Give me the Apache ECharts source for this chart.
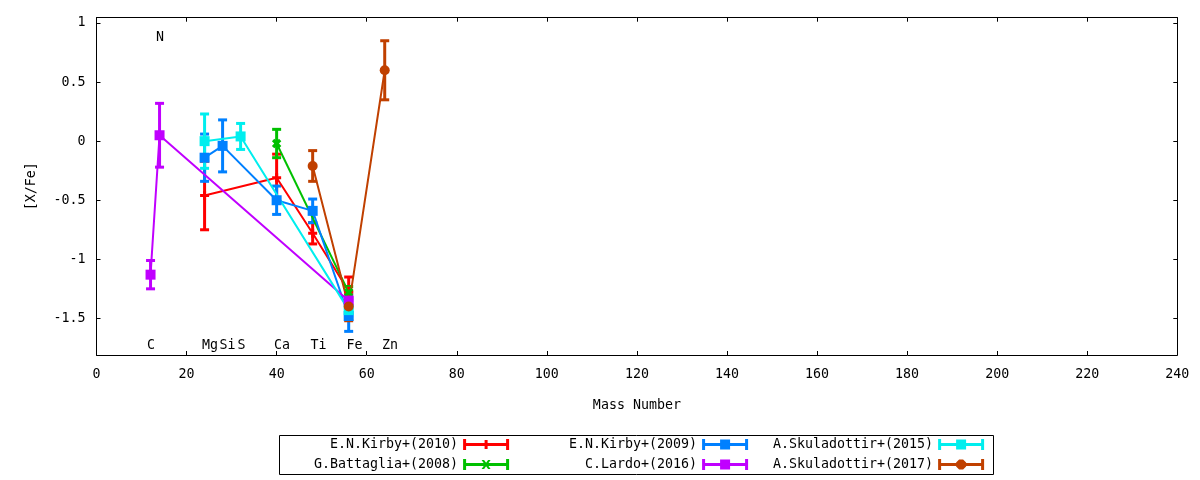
<!DOCTYPE html>
<html>
<head>
<meta charset="utf-8">
<script src="https://cdn.jsdelivr.net/npm/echarts@6/dist/echarts.min.js"></script>
<style>
html,body{margin:0;padding:0;background:#fff;}
#chart{width:1200px;height:480px;}
</style>
</head>
<body>
<div id="chart"></div>
<script>
// ---- data (mass number, [X/Fe], error) ----
const kirby2010Mass = [24, 40, 48, 56];
const kirby2010Val  = [-0.46, -0.31, -0.78, -1.27];
const kirby2010Err  = [0.29, 0.20, 0.09, 0.12];

const battaglia2008Mass = [40, 56];
const battaglia2008Val  = [-0.02, -1.28];
const battaglia2008Err  = [0.12, 0.05];

const kirby2009Mass = [24, 28, 40, 48, 56];
const kirby2009Val  = [-0.14, -0.04, -0.50, -0.59, -1.48];
const kirby2009Err  = [0.20, 0.22, 0.12, 0.10, 0.13];

const lardo2016Mass = [12, 14, 56];
const lardo2016Val  = [-1.13, 0.05, -1.35];
const lardo2016Err  = [0.12, 0.27, 0.05];

const skul2015Mass = [24, 32, 56];
const skul2015Val  = [0.00, 0.04, -1.43];
const skul2015Err  = [0.23, 0.11, 0.05];

const skul2017Mass = [48, 56, 64];
const skul2017Val  = [-0.21, -1.40, 0.60];
const skul2017Err  = [0.13, 0.12, 0.25];

// element labels
const elemNames  = ['C', 'N', 'Mg', 'Si', 'S', 'Ca', 'Ti', 'Fe', 'Zn'];
const elemLabelX = [12.1, 14.1, 25.2, 29.1, 32.2, 41.2, 49.3, 57.3, 65.2];
const elemLabelY = [-1.73, 0.88, -1.73, -1.73, -1.73, -1.73, -1.73, -1.73, -1.73];

// axis ticks
const xTicks = [0, 20, 40, 60, 80, 100, 120, 140, 160, 180, 200, 220, 240];
const yTicks = [-1.5, -1, -0.5, 0, 0.5, 1];

const FONT = 'DejaVu Sans Mono';
const FS = 13.3;

const names = {
  k10: 'E.N.Kirby+(2010)',
  b08: 'G.Battaglia+(2008)',
  k09: 'E.N.Kirby+(2009)',
  l16: 'C.Lardo+(2016)',
  s15: 'A.Skuladottir+(2015)',
  s17: 'A.Skuladottir+(2017)'
};
const colors = {
  k10: '#ff0000', b08: '#00c000', k09: '#0080ff',
  l16: '#c000ff', s15: '#00eeee', s17: '#c04000'
};

const plusPath = 'path://M3,0H6V3H9V6H6V9H3V6H0V3H3Z';

// legend icon paths (line + caps + marker)
const base = 'M0,4.5H46V7.5H0Z M0,0.5H3V11.5H0Z M43,0.5H46V11.5H43Z ';
const iconSquare = 'path://' + base + 'M18,1H28V11H18Z';
const iconPlus = 'path://' + base + 'M21.5,1.5H24.5V10.5H21.5Z M18.5,4.5H27.5V7.5H18.5Z';
const iconCross = 'path://' + base + 'M18.5,1.5L21,1.5L23,4.2L25,1.5L27.5,1.5L24.4,6L27.5,10.5L25,10.5L23,7.8L21,10.5L18.5,10.5L21.6,6Z';
const iconCircle = 'path://' + base + 'M21,1H25L28,4V8L25,11H21L18,8V4Z';

function pairs(m, v) { return m.map((x, i) => [x, v[i]]); }
function bars(m, v, e) { return m.map((x, i) => [x, v[i] - e[i], v[i] + e[i]]); }

function errRender(color) {
  return function (params, api) {
    const x = api.value(0);
    const top = api.coord([x, api.value(2)]);
    const bot = api.coord([x, api.value(1)]);
    const hw = 4.5;
    const st = { stroke: color, lineWidth: 3 };
    return {
      type: 'group',
      children: [
        { type: 'line', shape: { x1: top[0], y1: top[1], x2: bot[0], y2: bot[1] }, style: st },
        { type: 'line', shape: { x1: top[0] - hw, y1: top[1], x2: top[0] + hw, y2: top[1] }, style: st },
        { type: 'line', shape: { x1: bot[0] - hw, y1: bot[1], x2: bot[0] + hw, y2: bot[1] }, style: st }
      ]
    };
  };
}

function makeSeries(key, mass, val, err, symbol, size, rotate) {
  const c = colors[key];
  return [
    {
      name: names[key], type: 'custom', renderItem: errRender(c),
      data: bars(mass, val, err), encode: { x: 0, y: [1, 2] },
      itemStyle: { color: c }, silent: true, clip: false
    },
    {
      name: names[key], type: 'line', data: pairs(mass, val),
      symbol: symbol, symbolSize: size, symbolRotate: rotate || 0, showSymbol: true,
      lineStyle: { color: c, width: 2 }, itemStyle: { color: c, borderWidth: 0 },
      emphasis: { disabled: true }
    }
  ];
}

const series = [].concat(
  makeSeries('k10', kirby2010Mass, kirby2010Val, kirby2010Err, plusPath, 9),
  makeSeries('b08', battaglia2008Mass, battaglia2008Val, battaglia2008Err, plusPath, 10, 45),
  makeSeries('k09', kirby2009Mass, kirby2009Val, kirby2009Err, 'rect', 10),
  makeSeries('l16', lardo2016Mass, lardo2016Val, lardo2016Err, 'rect', 10),
  makeSeries('s15', skul2015Mass, skul2015Val, skul2015Err, 'rect', 10),
  makeSeries('s17', skul2017Mass, skul2017Val, skul2017Err, 'circle', 10)
);

series.push({
  type: 'custom', silent: true, clip: false,
  data: elemNames.map((n, i) => [elemLabelX[i], elemLabelY[i], n]),
  encode: { x: 0, y: 1 },
  renderItem: function (params, api) {
    const p = api.coord([api.value(0), api.value(1)]);
    return {
      type: 'text', x: p[0], y: p[1],
      style: {
        text: elemNames[params.dataIndex], fill: '#000',
        font: FS + 'px "' + FONT + '"', textAlign: 'center', textVerticalAlign: 'middle'
      }
    };
  }
});

function legendBlock(left, keys, icons, pad) {
  return {
    left: left, top: 438, orient: 'vertical', align: 'right',
    itemGap: 7, itemWidth: 46, itemHeight: 11, padding: 0,
    itemStyle: { borderWidth: 0 },
    textStyle: { fontFamily: FONT, fontSize: FS, color: '#000' },
    formatter: function (n) { return n.padStart(pad, ' '); },
    data: keys.map((k, i) => ({ name: names[k], icon: icons[i] }))
  };
}

const tickFont = { fontFamily: FONT, fontSize: FS, color: '#000' };
const axisLineStyle = { show: true, onZero: false, lineStyle: { color: '#000', width: 1 } };

const option = {
  animation: false,
  backgroundColor: '#fff',
  grid: { left: 96.5, right: 22.7, top: 17.7, bottom: 125, show: false },
  legend: [
    legendBlock(314, ['k10', 'b08'], [iconPlus, iconCross], 18),
    legendBlock(569, ['k09', 'l16'], [iconSquare, iconSquare], 16),
    legendBlock(773, ['s15', 's17'], [iconSquare, iconCircle], 20)
  ],
  graphic: [{
    type: 'rect', shape: { x: 279.5, y: 435.5, width: 714, height: 39 },
    style: { fill: 'none', stroke: '#000', lineWidth: 1 }, silent: true
  }],
  xAxis: [
    {
      type: 'value', min: 0, max: 240, interval: 20, position: 'bottom',
      name: 'Mass Number', nameLocation: 'middle', nameGap: 44,
      nameTextStyle: tickFont,
      axisLine: axisLineStyle,
      axisTick: { show: true, inside: true, length: 4, lineStyle: { color: '#000' } },
      axisLabel: Object.assign({ margin: 13, customValues: xTicks }, tickFont),
      splitLine: { show: false }
    },
    {
      type: 'value', min: 0, max: 240, interval: 20, position: 'top',
      axisLine: axisLineStyle,
      axisTick: { show: true, inside: true, length: 4, lineStyle: { color: '#000' } },
      axisLabel: { show: false }, splitLine: { show: false }
    }
  ],
  yAxis: [
    {
      type: 'value', min: -1.81, max: 1.045, position: 'left',
      name: '[X/Fe]', nameLocation: 'middle', nameGap: 58, nameRotate: 90,
      nameTextStyle: tickFont,
      axisLine: axisLineStyle,
      axisTick: { show: true, inside: true, length: 4, customValues: yTicks, lineStyle: { color: '#000' } },
      axisLabel: Object.assign({ margin: 11, customValues: yTicks }, tickFont),
      splitLine: { show: false }
    },
    {
      type: 'value', min: -1.81, max: 1.045, position: 'right',
      axisLine: axisLineStyle,
      axisTick: { show: true, inside: true, length: 4, customValues: yTicks, lineStyle: { color: '#000' } },
      axisLabel: { show: false }, splitLine: { show: false }
    }
  ],
  series: series
};

const chart = echarts.init(document.getElementById('chart'), null, { renderer: 'canvas' });
chart.setOption(option);
</script>
</body>
</html>
